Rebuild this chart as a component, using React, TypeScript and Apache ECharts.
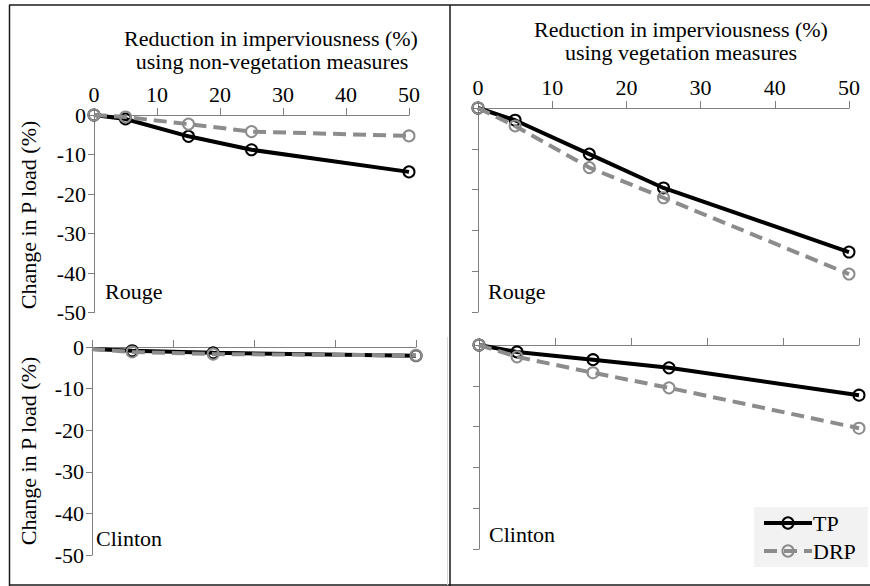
import { useEffect, useRef } from "react";
import * as echarts from "echarts";

// Reduction in imperviousness (%) at which the scenarios were run
const reductionPct = [0, 5, 15, 25, 50];

// Rouge watershed, change in P load (%)
const rougeNonVegTP = [0, -1.0, -5.4, -8.8, -14.4];
const rougeNonVegDRP = [0, -0.5, -2.3, -4.2, -5.3];
const rougeVegTP = [0, -3.0, -11.3, -19.6, -35.3];
const rougeVegDRP = [0, -4.4, -14.6, -22.0, -40.7];

// Clinton watershed, change in P load (%)
const clintonNonVegX = [0, 6.2, 18.7, 50];
const clintonNonVegTP = [-0.5, -0.9, -1.4, -2.1];
const clintonNonVegDRP = [-0.5, -1.2, -1.7, -2.0];
const clintonVegTP = [0, -1.7, -3.6, -5.6, -12.3];
const clintonVegDRP = [0, -2.9, -6.8, -10.5, -20.4];

const SERIF = "Liberation Serif";
const AXIS_GREY = "#7f7f7f";
const TP_COLOR = "#000000";
const DRP_COLOR = "#8c8c8c";

const pairs = (xs: number[], ys: number[]) => xs.map((x, i) => [x, ys[i]]);

function tpSeries(idx: number, data: any[]) {
  return {
    name: "TP",
    type: "line",
    xAxisIndex: idx,
    yAxisIndex: idx,
    data,
    symbol: "circle",
    symbolSize: 11,
    showAllSymbol: true,
    lineStyle: { color: TP_COLOR, width: 4 },
    itemStyle: { color: "rgba(255,255,255,0)", borderColor: TP_COLOR, borderWidth: 2 },
    z: 2,
  };
}

function drpSeries(idx: number, data: any[]) {
  return {
    name: "DRP",
    type: "line",
    xAxisIndex: idx,
    yAxisIndex: idx,
    data,
    symbol: "circle",
    symbolSize: 11,
    showAllSymbol: true,
    lineStyle: { color: DRP_COLOR, width: 4, type: [13, 7] },
    itemStyle: { color: "rgba(255,255,255,0)", borderColor: DRP_COLOR, borderWidth: 2 },
    z: 3,
  };
}

function xAxis(idx: number, showLabels: boolean, interval: number) {
  return {
    type: "value",
    gridIndex: idx,
    position: "top",
    min: 0,
    max: 50,
    interval,
    axisLine: { show: true, onZero: false, lineStyle: { color: AXIS_GREY, width: 1 } },
    axisTick: { show: true, inside: false, length: 7, lineStyle: { color: AXIS_GREY } },
    axisLabel: {
      show: showLabels,
      margin: 10,
      color: "#000",
      fontFamily: SERIF,
      fontSize: 22,
    },
    splitLine: { show: false },
  };
}

function yAxis(idx: number, showLabels: boolean) {
  return {
    type: "value",
    gridIndex: idx,
    min: -50,
    max: 0,
    interval: 10,
    axisLine: { show: true, onZero: false, lineStyle: { color: AXIS_GREY, width: 1 } },
    axisTick: { show: true, inside: false, length: 6, lineStyle: { color: AXIS_GREY } },
    axisLabel: {
      show: showLabels,
      margin: 8,
      color: "#000",
      fontFamily: SERIF,
      fontSize: 22,
    },
    splitLine: { show: false },
  };
}

function label(text: string, x: number, y: number, align = "left", rotation = 0) {
  return {
    type: "text",
    x,
    y,
    rotation,
    style: {
      text,
      fill: "#000",
      font: `22px ${SERIF}`,
      textAlign: align,
      textVerticalAlign: "middle",
    },
  };
}

function frameLine(x1: number, y1: number, x2: number, y2: number, stroke = "#1a1a1a", lineWidth = 1.5) {
  return { type: "line", shape: { x1, y1, x2, y2 }, style: { stroke, lineWidth }, silent: true };
}

export default function App() {
  const ref = useRef<HTMLDivElement>(null);

  useEffect(() => {
    document.body.style.margin = "0";
    if (!ref.current) return;
    const chart = echarts.init(ref.current, undefined, { renderer: "svg" });

    const clintonNonVegTPData = pairs(clintonNonVegX, clintonNonVegTP).map((v, i) =>
      i === 0 ? { value: v, symbol: "none" } : v
    );
    const clintonNonVegDRPData = pairs(clintonNonVegX, clintonNonVegDRP).map((v, i) =>
      i === 0 ? { value: v, symbol: "none" } : v
    );

    chart.setOption({
      animation: false,
      backgroundColor: "#ffffff",
      grid: [
        { left: 94, top: 115, width: 315, height: 197.5 },
        { left: 478, top: 108, width: 371, height: 204 },
        { left: 92, top: 347, width: 324, height: 208 },
        { left: 479, top: 345, width: 380, height: 204 },
      ],
      xAxis: [xAxis(0, true, 10), xAxis(1, true, 10), xAxis(2, false, 12.5), xAxis(3, false, 10)],
      yAxis: [yAxis(0, true), yAxis(1, false), yAxis(2, true), yAxis(3, false)],
      legend: {
        data: ["TP", "DRP"],
        orient: "vertical",
        left: 754,
        top: 507,
        itemWidth: 48,
        itemHeight: 14,
        itemGap: 6,
        padding: [5, 12, 5, 8],
        backgroundColor: "#f2f2f2",
        lineStyle: { width: 4 },
        textStyle: { color: "#000", fontFamily: SERIF, fontSize: 22, padding: [0, 0, 0, -4] },
      },
      series: [
        tpSeries(0, pairs(reductionPct, rougeNonVegTP)),
        drpSeries(0, pairs(reductionPct, rougeNonVegDRP)),
        tpSeries(1, pairs(reductionPct, rougeVegTP)),
        drpSeries(1, pairs(reductionPct, rougeVegDRP)),
        tpSeries(2, clintonNonVegTPData),
        drpSeries(2, clintonNonVegDRPData),
        tpSeries(3, pairs(reductionPct, clintonVegTP)),
        drpSeries(3, pairs(reductionPct, clintonVegDRP)),
      ],
      graphic: [
        // panel frames
        frameLine(9, 5, 870, 5),
        frameLine(9.5, 5, 9.5, 586),
        frameLine(450, 5, 450, 586),
        frameLine(9, 585, 870, 585),
        frameLine(447.5, 337, 447.5, 585, "#d9d9d9", 1),
        // axis titles
        label("Reduction in imperviousness (%)", 271, 38, "center"),
        label("using non-vegetation measures", 272, 61, "center"),
        label("Reduction in imperviousness (%)", 681, 29, "center"),
        label("using vegetation measures", 681, 52, "center"),
        label("Change in P load (%)", 28, 215, "center", Math.PI / 2),
        label("Change in P load (%)", 28, 451, "center", Math.PI / 2),
        // watershed names
        label("Rouge", 105, 291),
        label("Rouge", 488, 291),
        label("Clinton", 96, 538),
        label("Clinton", 489, 534),
      ],
    });

    return () => chart.dispose();
  }, []);

  return <div ref={ref} style={{ width: 870, height: 586 }} />;
}
